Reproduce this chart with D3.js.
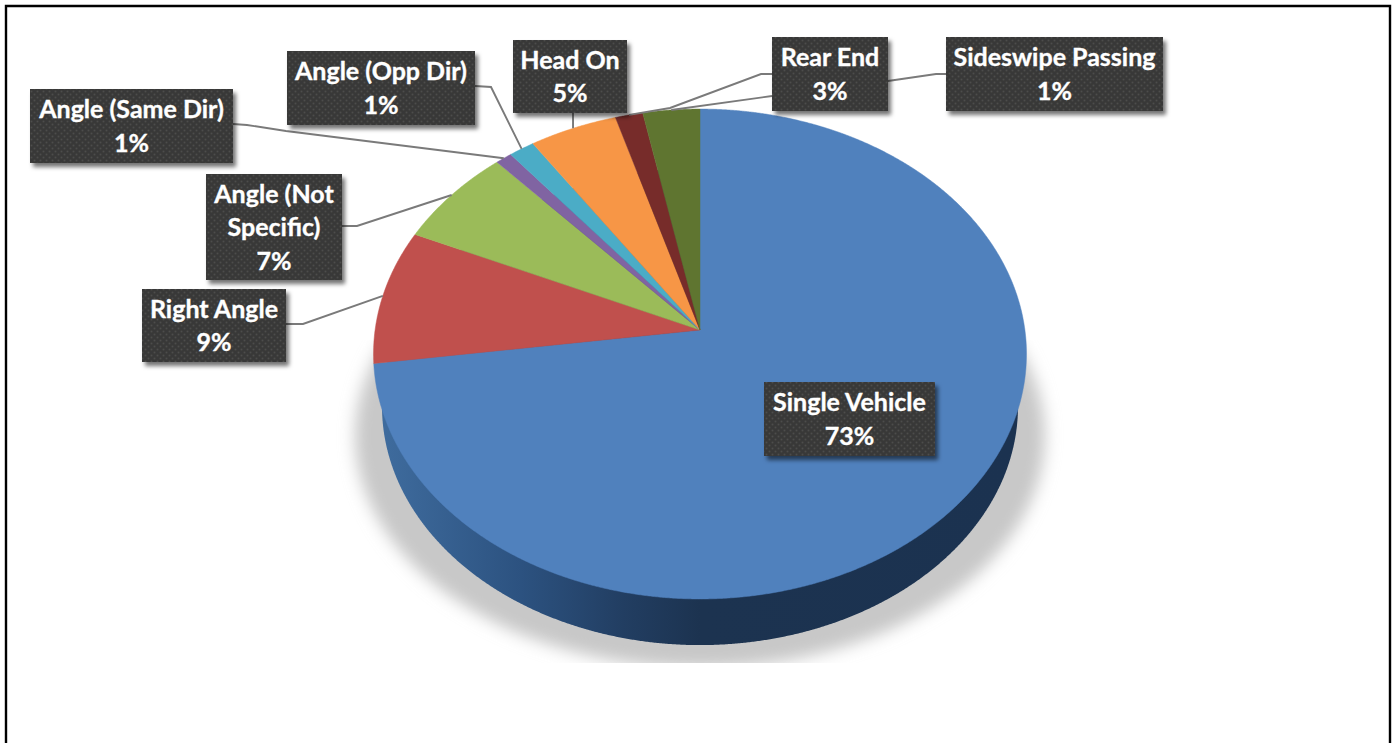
<!DOCTYPE html>
<html>
<head>
<meta charset="utf-8">
<script src="https://cdn.jsdelivr.net/npm/d3@7"></script>
<style>
  html, body { margin: 0; padding: 0; background: #fff; }
  svg { display: block; }
  .label { font-family: Lato, "Open Sans", sans-serif; font-weight: 700; font-size: 25px; fill: #fff; stroke: #fff; stroke-width: 0.35px; text-anchor: middle; }
</style>
</head>
<body>
<div id="chart"></div>
<script>
// clockwise from 12 o'clock
const categories = ['Single Vehicle', 'Right Angle', 'Angle (Not Specific)', 'Angle (Same Dir)', 'Angle (Opp Dir)', 'Head On', 'Sideswipe Passing', 'Rear End'];
const shares = [72.9, 8.9, 6.6, 0.9, 1.4, 4.8, 1.5, 3.1];
const percentLabels = ['73%', '9%', '7%', '1%', '1%', '5%', '1%', '3%'];
const sliceColors = ['#5081bd', '#c0504d', '#9bbb59', '#8064a2', '#4bacc6', '#f79646', '#772c2a', '#5f7530'];
const labelLines = [['Single Vehicle'], ['Right Angle'], ['Angle (Not', 'Specific)'], ['Angle (Same Dir)'], ['Angle (Opp Dir)'], ['Head On'], ['Sideswipe Passing'], ['Rear End']];

// box placement, same order as categories: x, y, w, h
const labelBoxes = [
  [764, 382, 171, 74],
  [142, 289, 144, 73],
  [206, 174, 136, 106],
  [30, 89, 203, 74],
  [287, 51, 188, 74],
  [513, 40, 114, 73],
  [946, 37, 217, 74],
  [772, 37, 116, 74]
];
// leader bends from the box towards the slice, the slice end is computed
const leaderBends = [
  null,
  [[286, 324], [303, 324]],
  [[342, 226], [357, 226]],
  [[233, 124], [247, 125], [286, 131]],
  [[475, 86], [491, 87]],
  [[573, 113]],
  [[946, 74], [936, 74], [888, 81], [772, 74], [761, 74], [670, 108]],
  [[772, 96]]
];

const width = 1395, height = 743;
const cx = 700, cy = 330;   // where the slices meet
const tilt = 0.098, radiusX = 324.9, radiusY = 242.6;
const faceMidY = 354, depth = 52.5, baseScale = 0.974;

const svg = d3.select('#chart').append('svg')
  .attr('width', width)
  .attr('height', height);

const defs = svg.append('defs');

const shadowBlur = defs.append('filter').attr('id', 'shadowBlur')
  .attr('x', '-10%').attr('y', '-10%').attr('width', '120%').attr('height', '120%');
shadowBlur.append('feGaussianBlur').attr('stdDeviation', 8);

const boxShadow = defs.append('filter').attr('id', 'boxShadow')
  .attr('x', '-10%').attr('y', '-10%').attr('width', '125%').attr('height', '130%');
boxShadow.append('feDropShadow')
  .attr('dx', 3).attr('dy', 4).attr('stdDeviation', 2.2)
  .attr('flood-color', '#000').attr('flood-opacity', 0.55);

defs.append('clipPath').attr('id', 'shadowClip').append('rect')
  .attr('x', 300).attr('y', 340).attr('width', 800).attr('height', 323);

const wallGradient = defs.append('linearGradient').attr('id', 'wallGradient')
  .attr('gradientUnits', 'userSpaceOnUse')
  .attr('x1', 380).attr('x2', 1020).attr('y1', 0).attr('y2', 0);
[[0, '#3f6c9e'], [0.22, '#2c5280'], [0.38, '#223e62'], [0.5, '#1c3350'], [1, '#1b3250']].forEach(s => {
  wallGradient.append('stop').attr('offset', s[0]).attr('stop-color', s[1]);
});

const dots = defs.append('pattern').attr('id', 'dots')
  .attr('patternUnits', 'userSpaceOnUse')
  .attr('width', 6).attr('height', 6);
dots.append('rect').attr('width', 6).attr('height', 6).attr('fill', '#383838');
dots.append('circle').attr('cx', 1.5).attr('cy', 1.5).attr('r', 0.9).attr('fill', '#4e4e4c');
dots.append('circle').attr('cx', 4.5).attr('cy', 4.5).attr('r', 0.9).attr('fill', '#4e4e4c');

// angle on the flat disc -> page position, seen in perspective
function project(a) {
  const X = Math.sin(a), Y = -Math.cos(a);
  const w = 1 - tilt * Y;
  return [cx + radiusX * X / w, cy + radiusY * Y / w];
}

function projectBase(a) {
  const p = project(a);
  return [cx + (p[0] - cx) * baseScale, faceMidY + (p[1] - faceMidY) * baseScale + depth];
}

function rimPoints(a0, a1, fn) {
  return d3.range(a0, a1, 0.004).concat([a1]).map(fn);
}

const line = d3.line();
const arcs = d3.pie().sort(null)(shares);

// frame, no bottom edge in the original
svg.append('path')
  .attr('d', line([[6, height], [6, 6], [1390, 6], [1390, height]]))
  .attr('fill', 'none')
  .attr('stroke', '#000')
  .attr('stroke-width', 2.4);

// soft ground shadow
svg.append('g').attr('clip-path', 'url(#shadowClip)')
  .append('ellipse')
  .attr('cx', cx).attr('cy', 436)
  .attr('rx', 345).attr('ry', 232)
  .attr('fill', '#c8c8c8')
  .attr('filter', 'url(#shadowBlur)');

// side wall
svg.append('path')
  .attr('d', line(rimPoints(0, 2 * Math.PI, projectBase)) + 'Z')
  .attr('fill', 'url(#wallGradient)');

// top face
svg.append('g').selectAll('path')
  .data(arcs)
  .join('path')
  .attr('d', d => line([[cx, cy]].concat(rimPoints(d.startAngle, d.endAngle, project))) + 'Z')
  .attr('fill', (d, i) => sliceColors[i])
  .attr('stroke', (d, i) => sliceColors[i])
  .attr('stroke-width', 0.5);

// leaders
svg.append('g').selectAll('path')
  .data(arcs.filter((d, i) => leaderBends[i]))
  .join('path')
  .attr('d', d => line(leaderBends[d.index].concat([project((d.startAngle + d.endAngle) / 2)])))
  .attr('fill', 'none')
  .attr('stroke', '#7a7a7a')
  .attr('stroke-width', 1.9);

// label boxes
const labels = svg.append('g').selectAll('g')
  .data(categories)
  .join('g');

labels.append('rect')
  .attr('x', (d, i) => labelBoxes[i][0])
  .attr('y', (d, i) => labelBoxes[i][1])
  .attr('width', (d, i) => labelBoxes[i][2])
  .attr('height', (d, i) => labelBoxes[i][3])
  .attr('fill', 'url(#dots)')
  .attr('filter', 'url(#boxShadow)');

labels.each(function(d, i) {
  const rows = labelLines[i].concat([percentLabels[i]]);
  const box = labelBoxes[i];
  const midX = box[0] + box[2] / 2;
  const firstBaseline = box[1] + box[3] / 2 - (rows.length - 1) * 33.5 / 2 + 9;
  d3.select(this).selectAll('text')
    .data(rows)
    .join('text')
    .attr('class', 'label')
    .attr('x', midX)
    .attr('y', (r, j) => firstBaseline + j * 33.5)
    .text(r => r);
});
</script>
</body>
</html>
